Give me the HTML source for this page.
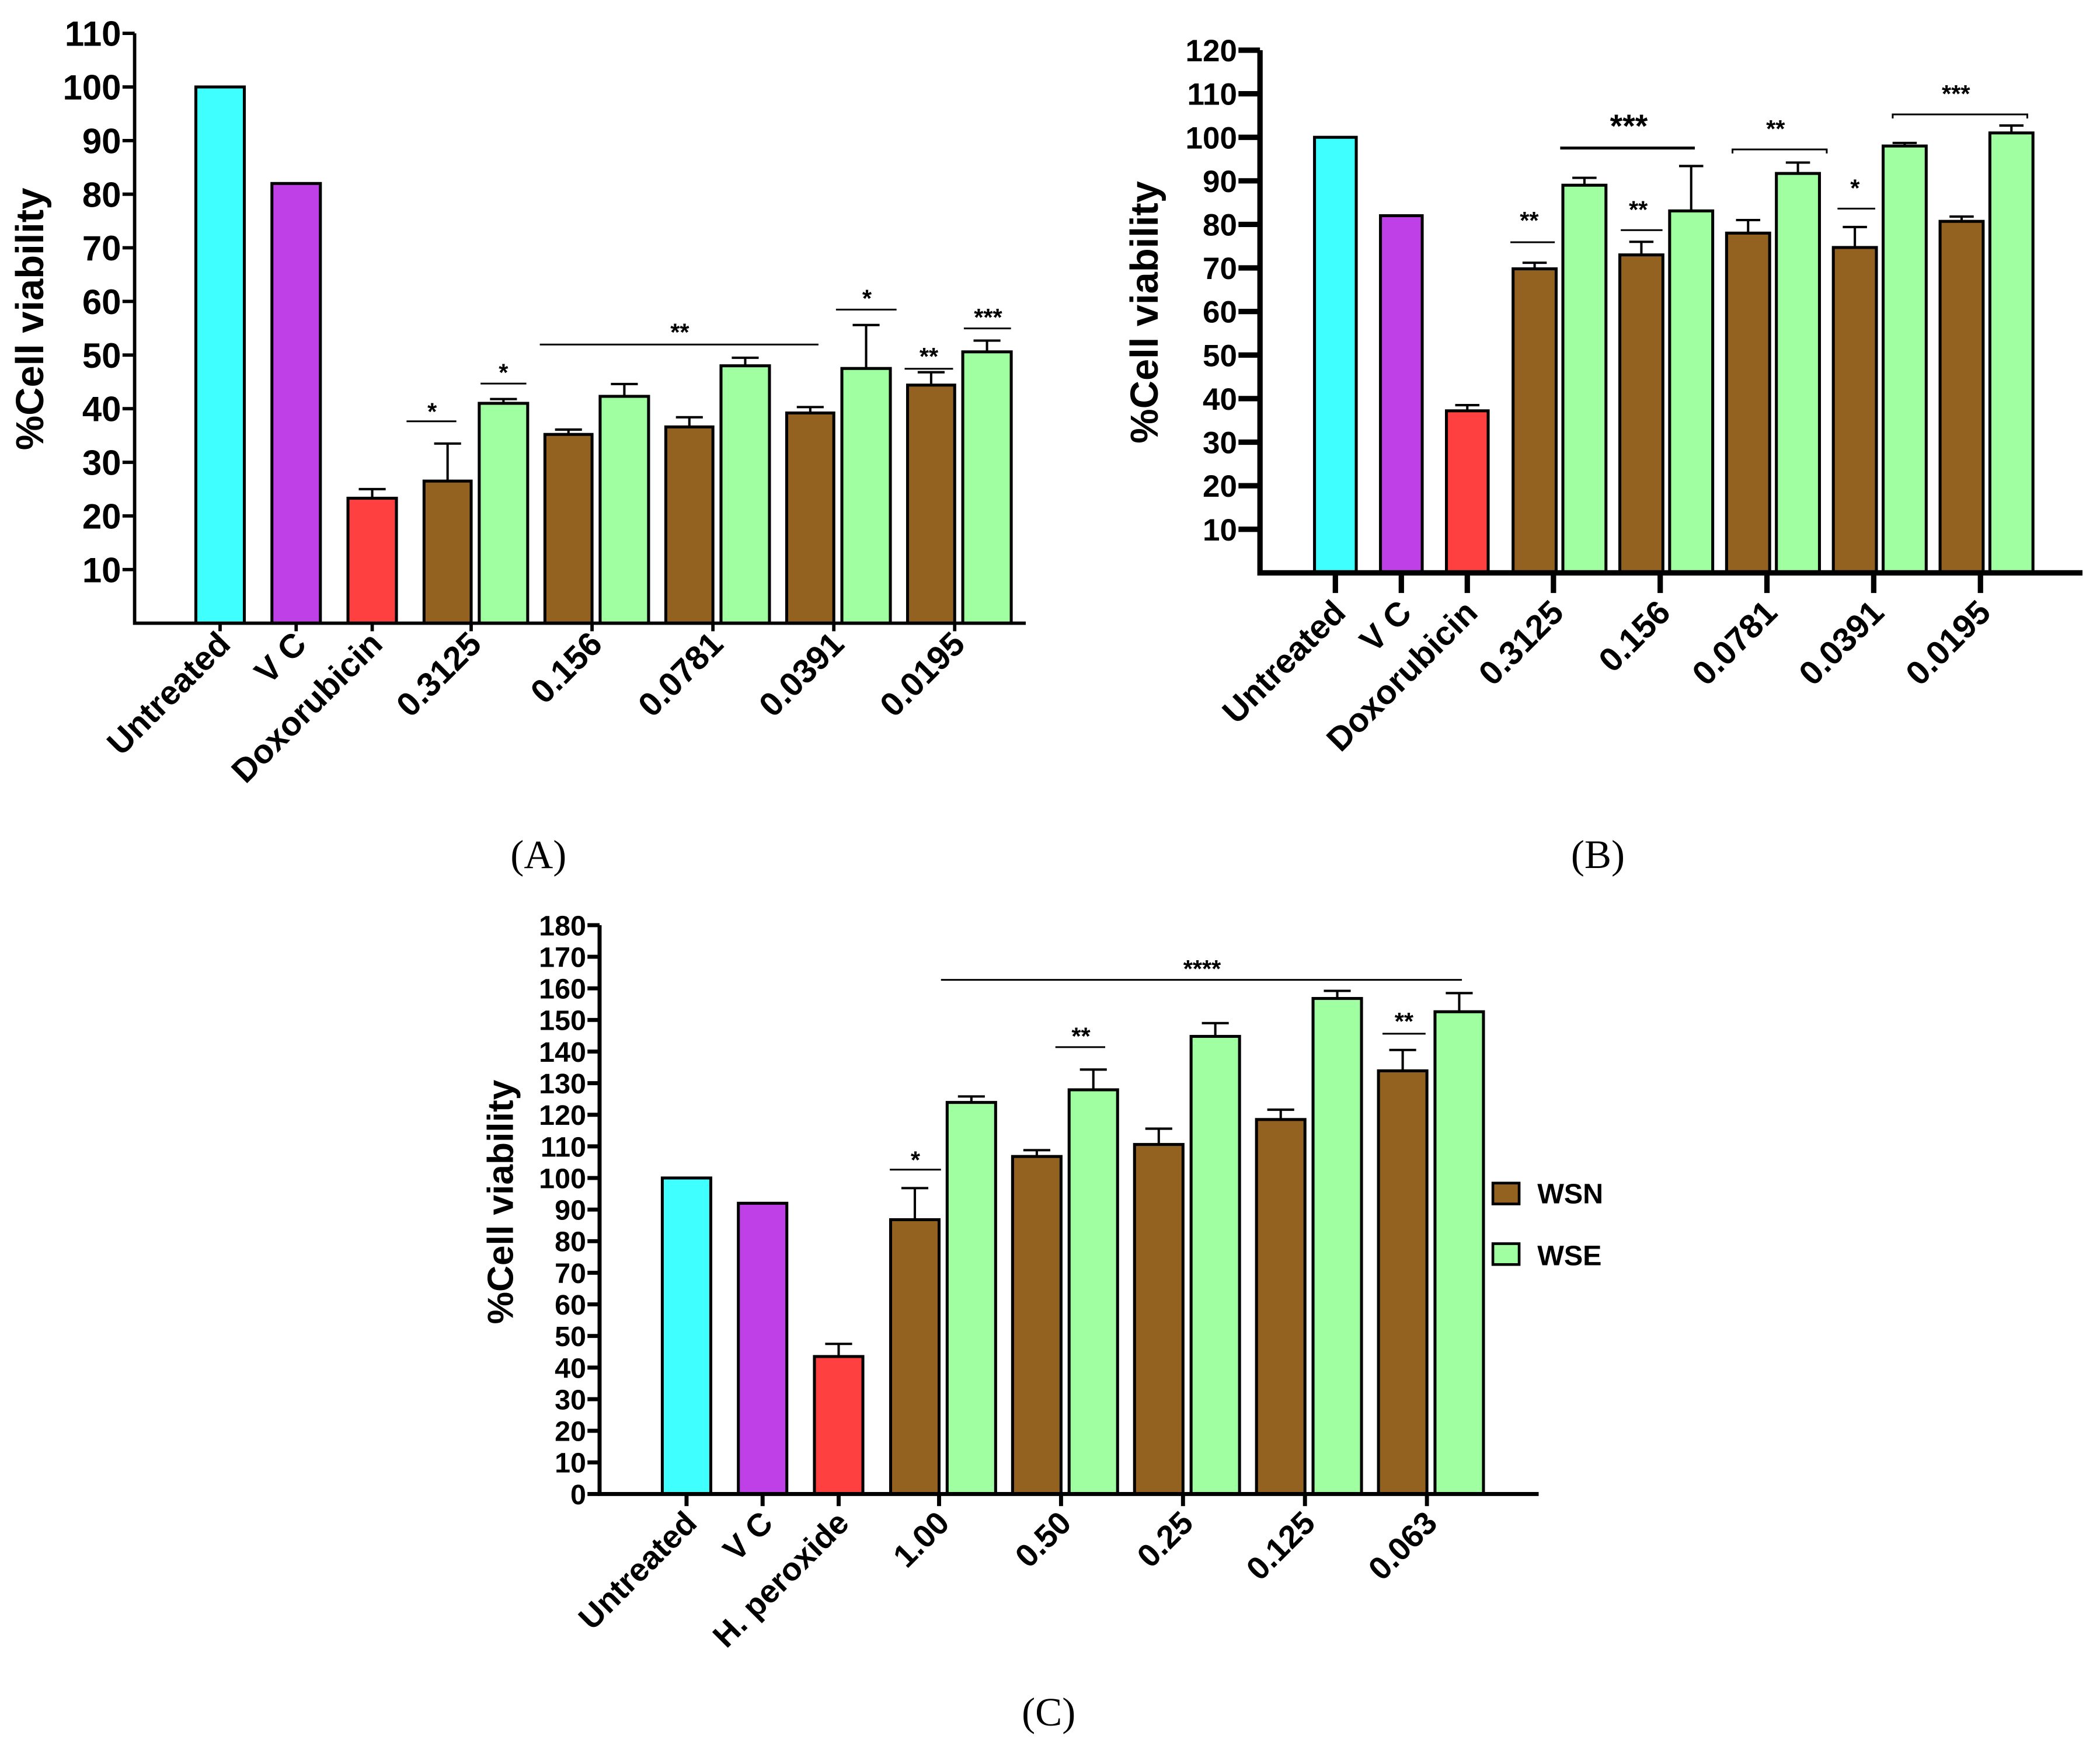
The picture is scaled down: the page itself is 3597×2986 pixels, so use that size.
<!DOCTYPE html>
<html><head><meta charset="utf-8"><style>
html,body{margin:0;padding:0;background:#fff}
svg{display:block}
text{font-family:"Liberation Sans Narrow","Liberation Sans",Arial,sans-serif;font-weight:bold;fill:#000}
.cap{font-family:"Liberation Serif",serif;font-weight:normal}
</style></head><body>
<svg id="fig" xmlns="http://www.w3.org/2000/svg" width="3597" height="2986" viewBox="0 0 1560 1295">
<g id="pA"></g>
<g id="pB"></g>
<g id="pC"></g>
<g id="ann" stroke="#000" stroke-width="1.3">
 <line x1="302" x2="339" y1="313" y2="313"/><line x1="357" x2="391" y1="285" y2="285"/>
 <line x1="401" x2="608" y1="256" y2="256"/><line x1="621" x2="666" y1="230" y2="230"/>
 <line x1="672" x2="708" y1="274" y2="274"/><line x1="716" x2="751" y1="244" y2="244"/>
 <line x1="1122" x2="1155" y1="180" y2="180"/><line x1="1159" x2="1259" y1="110" y2="110" stroke-width="2.2"/>
 <polyline points="1287,114 1287,111 1357,111 1357,114" fill="none"/><line x1="1204" x2="1235" y1="171" y2="171"/>
 <line x1="1365" x2="1393" y1="155" y2="155"/><polyline points="1406,88 1406,85 1506,85 1506,88" fill="none"/>
 <line x1="699" x2="1086" y1="728" y2="728"/><line x1="661" x2="699" y1="869" y2="869"/>
 <line x1="784" x2="821" y1="778" y2="778"/><line x1="1027" x2="1059" y1="768" y2="768"/>
</g>
<g font-size="18" text-anchor="middle" font-weight="normal">
 <text x="321" y="312">*</text><text x="374" y="283">*</text><text x="505" y="253">**</text>
 <text x="644" y="228">*</text><text x="690" y="271">**</text><text x="734" y="242">***</text>
 <text x="1136" y="170">**</text><text x="1210" y="102" font-size="24">***</text><text x="1319" y="102">**</text>
 <text x="1217" y="162">**</text><text x="1378" y="146">*</text><text x="1453" y="76">***</text>
 <text x="893" y="726">****</text><text x="680" y="868">*</text><text x="803" y="776">**</text><text x="1043" y="765">**</text>
</g>
<text class="cap" x="400" y="645" font-size="30" text-anchor="middle">(A)</text>
<text class="cap" x="1187" y="645" font-size="30" text-anchor="middle">(B)</text>
<text class="cap" x="779" y="1282" font-size="30" text-anchor="middle">(C)</text>
<g>
 <rect x="1109" y="879" width="19.5" height="15.5" fill="#936220" stroke="#000" stroke-width="2"/>
 <text x="1142" y="894" font-size="21">WSN</text>
 <rect x="1109" y="924" width="19.5" height="15.5" fill="#A0FFA0" stroke="#000" stroke-width="2"/>
 <text x="1142" y="940" font-size="21">WSE</text>
</g>
</svg>
<script>
// ---- Panel A data ----
const A_labels = ["Untreated","V C","Doxorubicin","0.3125","0.156","0.0781","0.0391","0.0195"];
const A_single = [100, 82, 23.3];
const A_singleErr = [null, null, 25];
const A_wsn = [26.5, 35.2, 36.6, 39.2, 44.4];
const A_wsnErr = [33.5, 36.1, 38.4, 40.3, 46.8];
const A_wse = [41, 42.3, 48, 47.5, 50.6];
const A_wseErr = [41.8, 44.6, 49.5, 55.6, 52.7];
const A_ticks = [10,20,30,40,50,60,70,80,90,100,110];
// ---- Panel B data ----
const B_labels = ["Untreated","V C","Doxorubicin","0.3125","0.156","0.0781","0.0391","0.0195"];
const B_single = [100, 82, 37.2];
const B_singleErr = [null, null, 38.5];
const B_wsn = [69.8, 73, 78, 74.7, 80.7];
const B_wsnErr = [71.2, 76, 81, 79.4, 81.8];
const B_wse = [89, 83.1, 91.7, 98, 101];
const B_wseErr = [90.7, 93.4, 94.2, 98.7, 102.7];
const B_ticks = [10,20,30,40,50,60,70,80,90,100,110,120];
// ---- Panel C data ----
const C_labels = ["Untreated","V C","H. peroxide","1.00","0.50","0.25","0.125","0.063"];
const C_single = [100, 92, 43.5];
const C_singleErr = [null, null, 47.5];
const C_wsn = [86.8, 106.8, 110.6, 118.5, 133.9];
const C_wsnErr = [96.8, 108.8, 115.6, 121.6, 140.5];
const C_wse = [123.9, 127.9, 144.8, 156.8, 152.6];
const C_wseErr = [125.8, 134.3, 149, 159.2, 158.5];
const C_ticks = [0,10,20,30,40,50,60,70,80,90,100,110,120,130,140,150,160,170,180];

const NS="http://www.w3.org/2000/svg";
const COLORS=["#40FFFF","#C040E8","#FF4040"];
function mk(parent,tag,attrs){const e=document.createElementNS(NS,tag);for(const k in attrs)e.setAttribute(k,attrs[k]);parent.appendChild(e);return e;}

function drawPanel(g,P,labels,single,singleErr,wsn,wsnErr,wse,wseErr,ticks){
  const y=v=>P.base-v*P.per/10;
  const sx=i=>P.s0+i*P.sStep;
  const gx=i=>P.g0+i*P.gStep;
  function bar(x1,x2,v,err,fill,name){
    const r=mk(g,'rect',{x:x1,y:y(v),width:x2-x1,height:P.base-y(v),fill:fill,stroke:'#000','stroke-width':P.bw});
    
    
    if(err!=null){
      const cx=(x1+x2)/2;
      const l=mk(g,'path',{d:`M${cx},${y(v)}V${y(err)}M${cx-P.cap},${y(err)}H${cx+P.cap}`,stroke:'#000','stroke-width':P.bw*0.8,fill:'none'});
      
      
    }
  }
  single.forEach((v,i)=>bar(sx(i)-P.hw,sx(i)+P.hw,v,singleErr[i],COLORS[i],'bar-'+labels[i].toLowerCase().replace(/[^a-z0-9]+/g,'-')));
  wsn.forEach((v,i)=>bar(gx(i)+P.wsnO[0],gx(i)+P.wsnO[1],v,wsnErr[i],'#936220','bar-wsn-'+labels[i+3]));
  wse.forEach((v,i)=>bar(gx(i)+P.wseO[0],gx(i)+P.wseO[1],v,wseErr[i],'#A0FFA0','bar-wse-'+labels[i+3]));
  const ax=mk(g,'path',{d:`M${P.x0},${y(ticks[ticks.length-1])}V${P.base}H${P.xEnd}`,stroke:'#000','stroke-width':P.aw,fill:'none'});
  
  
  ticks.forEach(t=>{
    mk(g,'line',{x1:P.x0-P.tl,x2:P.x0,y1:y(t),y2:y(t),stroke:'#000','stroke-width':P.aw});
    const tx=mk(g,'text',{x:P.x0-P.tl-1,y:y(t)+P.fs*0.36,'font-size':P.fs,'text-anchor':'end'});
    tx.textContent=t;
    
    
  });
  const xs=[0,1,2].map(sx).concat([0,1,2,3,4].map(gx));
  xs.forEach((x,i)=>{
    mk(g,'line',{x1:x,x2:x,y1:P.base,y2:P.base+P.xtl,stroke:'#000','stroke-width':P.aw});
    const lx=x+P.lo[0], ly=P.base+P.lo[1];
    const tx=mk(g,'text',{x:lx,y:ly,'font-size':P.xfs,'text-anchor':'end',transform:`rotate(-45 ${lx} ${ly})`});
    tx.textContent=labels[i];
    
    
  });
  const yt=mk(g,'text',{x:P.yl[0],y:P.yl[1],'font-size':P.yfs,'text-anchor':'middle',transform:`rotate(-90 ${P.yl[0]} ${P.yl[1]})`});
  yt.textContent='%Cell viability';
  
  
}
drawPanel(document.getElementById('pA'),
 {base:463,per:39.84,x0:100,xEnd:762,s0:163.5,sStep:56.5,g0:350,gStep:89.8,hw:18,wsnO:[-35,0],wseO:[6,42],bw:2.2,aw:2.5,cap:10,tl:9,xtl:6,fs:26,xfs:25,lo:[9,17],yl:[32,237],yfs:29},
 A_labels,A_single,A_singleErr,A_wsn,A_wsnErr,A_wse,A_wseErr,A_ticks);
drawPanel(document.getElementById('pB'),
 {base:425.6,per:32.36,x0:936,xEnd:1547,s0:992,sStep:49,g0:1154,gStep:79.3,hw:15.5,wsnO:[-30,2],wseO:[7,39],bw:2.2,aw:4,cap:9,tl:16,xtl:15,fs:23,xfs:25,lo:[9,31],yl:[860,232],yfs:29},
 B_labels,B_single,B_singleErr,B_wsn,B_wsnErr,B_wse,B_wseErr,B_ticks);
drawPanel(document.getElementById('pC'),
 {base:1110,per:23.48,x0:445.4,xEnd:1143,s0:510,sStep:56.5,g0:697.6,gStep:90.6,hw:18,wsnO:[-36,0],wseO:[6,42],bw:2.2,aw:3,cap:10,tl:9,xtl:9,fs:21,xfs:24,lo:[9,23],yl:[381,893],yfs:27},
 C_labels,C_single,C_singleErr,C_wsn,C_wsnErr,C_wse,C_wseErr,C_ticks);
</script>
</body></html>
